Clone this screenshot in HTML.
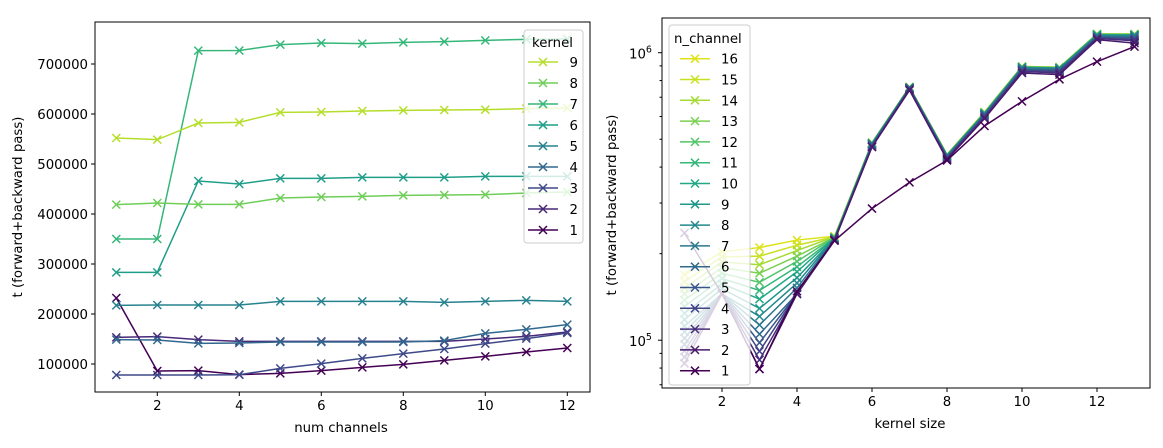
<!DOCTYPE html>
<html><head><meta charset="utf-8"><style>
body{margin:0;background:#fff;}
svg{display:block;font-family:"DejaVu Sans","Liberation Sans",sans-serif;}
</style></head><body>
<svg id="c" width="1163" height="448"></svg>
<script>
const leftX = [1,2,3,4,5,6,7,8,9,10,11,12];
const leftKernels = [9,8,7,6,5,4,3,2,1];
const leftColors = {9:"#b5de2b",8:"#6ece58",7:"#35b779",6:"#1f9e89",5:"#26828e",4:"#31688e",3:"#3e4989",2:"#482878",1:"#440154"};
const k1 = [232000,86000,86700,78700,81300,86700,93300,99300,107300,115300,124000,132000];
const k2 = [153300,154700,148700,145300,145300,145300,145300,145300,145300,150000,155300,164000];
const k3 = [78000,78000,78000,78500,91300,100700,111300,120700,130000,140700,150700,162000];
const k4 = [148700,148000,141300,142000,144000,144000,144000,144000,146700,161300,169300,178700];
const k5 = [217300,218000,218000,218000,225300,225300,225300,225300,223300,225300,227300,225300];
const k6 = [283300,283300,466000,460000,471300,471300,473300,473300,473300,475300,475300,475300];
const k7 = [350000,350000,726700,727000,738700,742000,740700,743300,744700,747300,749300,750000];
const k8 = [418700,422000,419300,419300,432000,434000,435300,437300,438000,438700,442000,444000];
const k9 = [552000,548700,582000,583300,603300,604000,606000,607300,608000,608700,610700,612000];
const leftSeries = {1:k1,2:k2,3:k3,4:k4,5:k5,6:k6,7:k7,8:k8,9:k9};
const leftYTicks = [100000,200000,300000,400000,500000,600000,700000];
const leftXTicks = [2,4,6,8,10,12];

const rightX = [1,2,3,4,5,6,7,8,9,10,11,12,13];
const rightColors = {1:"#440154",2:"#481a6c",3:"#472f7d",4:"#414487",5:"#39568c",6:"#31688e",7:"#2a788e",8:"#23888e",9:"#1f988b",10:"#22a884",11:"#35b779",12:"#54c568",13:"#7ad151",14:"#a5db36",15:"#c8e020",16:"#dde318"};
const n1 = [236000,145000,79400,148000,222000,287000,354000,422000,556000,677000,808000,931000,1050000];
const n2 = [83000,145000,79400,145000,222000,470000,740000,425000,590000,850000,839000,1110000,1080000];
const n3 = [87300,145000,85400,145000,223000,470000,745000,428000,595000,860000,850000,1120000,1100000];
const n4 = [91800,145000,91500,145000,224000,472000,748000,430000,600000,865000,860000,1125000,1110000];
const n5 = [96600,145000,98000,145000,224000,475000,750000,432000,605000,870000,865000,1130000,1120000];
const n6 = [101600,145000,105000,145000,225000,478000,752000,434000,608000,875000,870000,1135000,1130000];
const n7 = [107000,145000,113000,152000,225000,480000,754000,436000,610000,880000,875000,1140000,1140000];
const n8 = [112000,145000,121000,158000,226000,482000,755000,438000,612000,885000,880000,1145000,1145000];
const n9 = [118000,151000,129000,165000,226000,483000,756000,439000,614000,888000,883000,1150000,1150000];
const n10 = [124000,157000,139000,173000,227000,484000,757000,440000,616000,890000,885000,1155000,1152000];
const n11 = [131000,164000,149000,180000,227000,484000,758000,440000,617000,891000,886000,1157000,1155000];
const n12 = [138000,171000,159000,188000,228000,485000,758000,441000,618000,892000,887000,1158000,1157000];
const n13 = [145000,179000,171000,196000,228000,485000,758000,441000,619000,893000,888000,1160000,1158000];
const n14 = [152000,187000,183000,205000,229000,486000,759000,442000,620000,894000,889000,1161000,1160000];
const n15 = [160000,195000,196000,214000,229000,486000,760000,442000,621000,895000,890000,1162000,1161000];
const n16 = [169000,203000,210000,223000,230000,487000,760000,443000,622000,896000,891000,1163000,1162000];
const rightSeries = {1:n1,2:n2,3:n3,4:n4,5:n5,6:n6,7:n7,8:n8,9:n9,10:n10,11:n11,12:n12,13:n13,14:n14,15:n15,16:n16};
const rightXTicks = [2,4,6,8,10,12];

const NS="http://www.w3.org/2000/svg";
const FS=13.3;
const svg=document.getElementById('c');
function mk(tag,attrs,parent){const e=document.createElementNS(NS,tag);for(const k in attrs)e.setAttribute(k,attrs[k]);(parent||svg).appendChild(e);return e;}
function txt(s,x,y,attrs,parent){const t=mk('text',Object.assign({x:x,y:y,'font-size':FS,fill:'#000'},attrs||{}),parent);t.textContent=s;return t;}
function marker(g,x,y,c){const d=4;mk('path',{d:`M${x-d},${y-d}L${x+d},${y+d}M${x-d},${y+d}L${x+d},${y-d}`,stroke:c,'stroke-width':1.5,fill:'none'},g);}

// LEFT
const L={x0:95,x1:590,y0:22,y1:392};
const lx=v=>116.3+(v-1)*41.0;
const ly=v=>414-v*0.0005;
const lPlot=mk('g',{});


for(const k of [1,2,3,4,5,6,7,8,9]){
  const g=mk('g',{},lPlot);
  
  
  const vals=leftSeries[k];
  mk('polyline',{points:vals.map((v,i)=>lx(leftX[i])+','+ly(v)).join(' '),fill:'none',stroke:leftColors[k],'stroke-width':1.5},g);
  vals.forEach((v,i)=>marker(g,lx(leftX[i]),ly(v),leftColors[k]));
}
mk('rect',{x:L.x0,y:L.y0,width:L.x1-L.x0,height:L.y1-L.y0,fill:'none',stroke:'#000','stroke-width':1});
for(const t of leftXTicks){mk('line',{x1:lx(t),x2:lx(t),y1:L.y1,y2:L.y1+4,stroke:'#000'});const e=txt(String(t),lx(t),L.y1+18,{'text-anchor':'middle'});}
for(const t of leftYTicks){mk('line',{x1:L.x0-4,x2:L.x0,y1:ly(t),y2:ly(t),stroke:'#000'});const e=txt(String(t),L.x0-7,ly(t)+5,{'text-anchor':'end'});}
let e=txt('num channels',341,432,{'text-anchor':'middle'});
e=txt('t (forward+backward pass)',0,0,{'text-anchor':'middle',transform:'translate(22,207) rotate(-90)'});
// left legend
const lg=mk('g',{});


mk('rect',{x:524,y:30,width:59,height:213,rx:3,fill:'rgba(255,255,255,0.8)',stroke:'#ccc'},lg);
txt('kernel',532,47,{},lg);
leftKernels.forEach((k,i)=>{const y=62+i*21;const it=mk('g',{},lg);
 
 
 mk('line',{x1:528,x2:558,y1:y,y2:y,stroke:leftColors[k],'stroke-width':1.5},it);marker(it,543,y,leftColors[k]);txt(String(k),578,y+5,{'text-anchor':'end'},it);});

// RIGHT
const R={x0:662,x1:1150,y0:18,y1:388};
const rx=v=>684.5+(v-1)*37.5;
const ry=v=>52.7+(6-Math.log10(v))*287.5;
const rPlot=mk('g',{});


for(let n=16;n>=1;n--){
  const g=mk('g',{},rPlot);
  
  
  const vals=rightSeries[n];
  mk('polyline',{points:vals.map((v,i)=>rx(rightX[i])+','+ry(v)).join(' '),fill:'none',stroke:rightColors[n],'stroke-width':1.5},g);
  vals.forEach((v,i)=>marker(g,rx(rightX[i]),ry(v),rightColors[n]));
}
mk('rect',{x:R.x0,y:R.y0,width:R.x1-R.x0,height:R.y1-R.y0,fill:'none',stroke:'#000'});
for(const t of rightXTicks){mk('line',{x1:rx(t),x2:rx(t),y1:R.y1,y2:R.y1+4,stroke:'#000'});const e2=txt(String(t),rx(t),R.y1+18,{'text-anchor':'middle'});}
for(const m of [70000,80000,90000,200000,300000,400000,500000,600000,700000,800000,900000]){const y=ry(m);if(y>R.y0&&y<R.y1)mk('line',{x1:R.x0-2.5,x2:R.x0,y1:y,y2:y,stroke:'#000'});}
for(const [v,lab] of [[100000,'5'],[1000000,'6']]){const y=ry(v);mk('line',{x1:R.x0-4,x2:R.x0,y1:y,y2:y,stroke:'#000'});
 const t=txt('10',629,y+6,{'text-anchor':'start'});
 const s=mk('tspan',{dy:-6,'font-size':9.5});s.textContent=lab;t.appendChild(s);}
e=txt('kernel size',910,428,{'text-anchor':'middle'});
e=txt('t (forward+backward pass)',0,0,{'text-anchor':'middle',transform:'translate(616,205) rotate(-90)'});
const rg=mk('g',{});


mk('rect',{x:669,y:25,width:81,height:360,rx:3,fill:'rgba(255,255,255,0.8)',stroke:'#ccc'},rg);
txt('n_channel',674,43,{},rg);
for(let i=0;i<16;i++){const n=16-i;const y=58.7+i*20.8;const it=mk('g',{},rg);
 
 
 mk('line',{x1:680,x2:710,y1:y,y2:y,stroke:rightColors[n],'stroke-width':1.5},it);marker(it,695,y,rightColors[n]);txt(String(n),721,y+5,{},it);}
</script>
</body></html>
